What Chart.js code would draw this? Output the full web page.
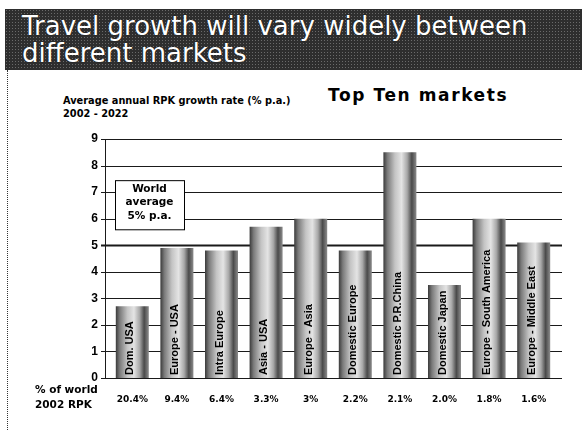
<!DOCTYPE html>
<html>
<head>
<meta charset="utf-8">
<script src="https://cdn.jsdelivr.net/npm/chart.js@4"></script>
<style>
  body { margin: 0; background: #fff; }
  #wrap { position: relative; width: 582px; height: 438px; overflow: hidden; }
  #banner {
    position: absolute; left: 5px; top: 9px; width: 577px; height: 61px;
    background-color: #2e2e2e;
    background-image: radial-gradient(#6a6a6a 0.7px, transparent 0.8px);
    background-size: 3px 3px;
  }
  #banner div {
    position: absolute; left: 17px; color: #fff;
    font-family: "DejaVu Sans", Verdana, sans-serif; font-size: 26px; line-height: 27px;
    white-space: nowrap; text-shadow: 0 0 1px #000;
  }
  #border { position: absolute; left: 7px; top: 70px; height: 360px; border-left: 1px dotted #333; }
  .sub { position: absolute; font-family: "DejaVu Sans", sans-serif; font-weight: bold; color: #000; white-space: nowrap; }
  canvas { position: absolute; left: 0; top: 0; }
</style>
</head>
<body>
<div id="wrap">
  <div id="banner">
    <div style="top:4px">Travel growth will vary widely between</div>
    <div style="top:31px">different markets</div>
  </div>
  <div id="border"></div>
  <div class="sub" style="left:63px; top:94px; font-size:9.8px; line-height:13px">Average annual RPK growth rate (% p.a.)<br>2002 - 2022</div>
  <div class="sub" style="left:328px; top:85px; font-size:17px; letter-spacing:1.6px">Top Ten markets</div>
  <canvas id="rpkChart" width="582" height="438"></canvas>
</div>
<script>
var markets = ['Dom. USA', 'Europe - USA', 'Intra Europe', 'Asia - USA', 'Europe - Asia',
               'Domestic Europe', 'Domestic P.R.China', 'Domestic Japan',
               'Europe - South America', 'Europe - Middle East'];
var growth = [2.7, 4.9, 4.8, 5.7, 6.0, 4.8, 8.5, 3.5, 6.0, 5.1];
var shares = ['20.4%', '9.4%', '6.4%', '3.3%', '3%', '2.2%', '2.1%', '2.0%', '1.8%', '1.6%'];
var worldAverage = 5;
var yMax = 9;

var barPct = 0.74;

function barGradient(context) {
    var chart = context.chart;
    if (!chart.chartArea) return '#aaa';
    var xs = chart.scales.x;
    var cx = xs.getPixelForValue(context.dataIndex);
    var w = chart.chartArea.width / markets.length * barPct;
    var g = chart.ctx.createLinearGradient(cx - w / 2, 0, cx + w / 2, 0);
    g.addColorStop(0, '#3a3a3a');
    g.addColorStop(0.12, '#7a7a7a');
    g.addColorStop(0.35, '#c4c4c4');
    g.addColorStop(0.55, '#e4e4e4');
    g.addColorStop(0.72, '#a8a8a8');
    g.addColorStop(0.86, '#4a4a4a');
    g.addColorStop(1, '#8c8c8c');
    return g;
}

// grid lines, axis and tick marks drawn a little past the plot area, like the original
var gridPlugin = {
    id: 'grid',
    beforeDatasetsDraw: function(chart) {
        var ctx = chart.ctx, a = chart.chartArea, ys = chart.scales.y;
        ctx.save();
        ys.ticks.forEach(function(t) {
            var y = Math.round(ys.getPixelForValue(t.value)) + 0.5;
            ctx.strokeStyle = '#1a1a1a';
            ctx.lineWidth = t.value === worldAverage ? 2 : 1;
            ctx.beginPath();
            ctx.moveTo(a.left - 9, y);
            ctx.lineTo(a.right + 6, y);
            ctx.stroke();
        });
        ctx.lineWidth = 1;
        ctx.beginPath();
        ctx.moveTo(a.left - 4.5, a.top);
        ctx.lineTo(a.left - 4.5, a.bottom);
        ctx.stroke();
        ctx.restore();
    }
};

var labelPlugin = {
    id: 'labels',
    afterDatasetsDraw: function(chart) {
        var ctx = chart.ctx, a = chart.chartArea, ys = chart.scales.y;
        var meta = chart.getDatasetMeta(0);
        ctx.save();
        ctx.fillStyle = '#000';
        ctx.font = 'bold 11px "Liberation Sans", Arial, sans-serif';
        ctx.textBaseline = 'middle';
        ctx.textAlign = 'left';
        meta.data.forEach(function(bar, i) {
            ctx.save();
            ctx.translate(bar.x - 2, a.bottom - 3);
            ctx.rotate(-Math.PI / 2);
            ctx.fillText(markets[i], 0, 0);
            ctx.restore();
        });

        // world average box
        var bx = a.left + 5, by = ys.getPixelForValue(7.45), bw = 69;
        var bh = ys.getPixelForValue(5.6) - by;
        ctx.fillStyle = '#fff';
        ctx.fillRect(bx, by, bw, bh);
        ctx.strokeStyle = '#000';
        ctx.lineWidth = 1;
        ctx.strokeRect(bx + 0.5, by + 0.5, bw, bh);
        ctx.fillStyle = '#000';
        ctx.font = 'bold 10.5px "DejaVu Sans", sans-serif';
        ctx.textAlign = 'center';
        ['World', 'average', worldAverage + '% p.a.'].forEach(function(s, i) {
            ctx.fillText(s, bx + bw / 2, by + 9 + i * 13.5);
        });

        // row caption for the share labels
        ctx.textAlign = 'left';
        ctx.font = 'bold 10.5px "DejaVu Sans", sans-serif';
        ctx.fillText('% of world', 35, a.bottom + 12);
        ctx.fillText('2002 RPK', 35, a.bottom + 27);
        ctx.restore();
    }
};

var chart = new Chart(document.getElementById('rpkChart').getContext('2d'), {
    type: 'bar',
    data: {
        labels: markets,
        datasets: [{
            data: growth,
            backgroundColor: barGradient,
            borderWidth: 0,
            categoryPercentage: 1,
            barPercentage: barPct
        }]
    },
    options: {
        responsive: false,
        animation: false,
        layout: { padding: { left: 65, right: 26, top: 139, bottom: 0 } },
        plugins: { legend: { display: false }, tooltip: { enabled: false } },
        scales: {
            x: {
                grid: { display: false, drawTicks: false },
                border: { display: false },
                ticks: {
                    color: '#000',
                    padding: 16,
                    maxRotation: 0,
                    autoSkip: false,
                    font: { family: '"DejaVu Sans", sans-serif', size: 9, weight: 'bold' },
                    callback: function(v, i) { return shares[i]; }
                },
                afterFit: function(s) { s.height = 60; }
            },
            y: {
                min: 0,
                max: yMax,
                grid: { display: false, drawTicks: false },
                border: { display: false },
                ticks: {
                    stepSize: 1,
                    color: '#000',
                    padding: 12,
                    font: { family: '"Liberation Sans", Arial, sans-serif', size: 12, weight: 'bold' }
                },
                afterFit: function(s) { s.width = 45; }
            }
        }
    },
    plugins: [gridPlugin, labelPlugin]
});
</script>
</body>
</html>
